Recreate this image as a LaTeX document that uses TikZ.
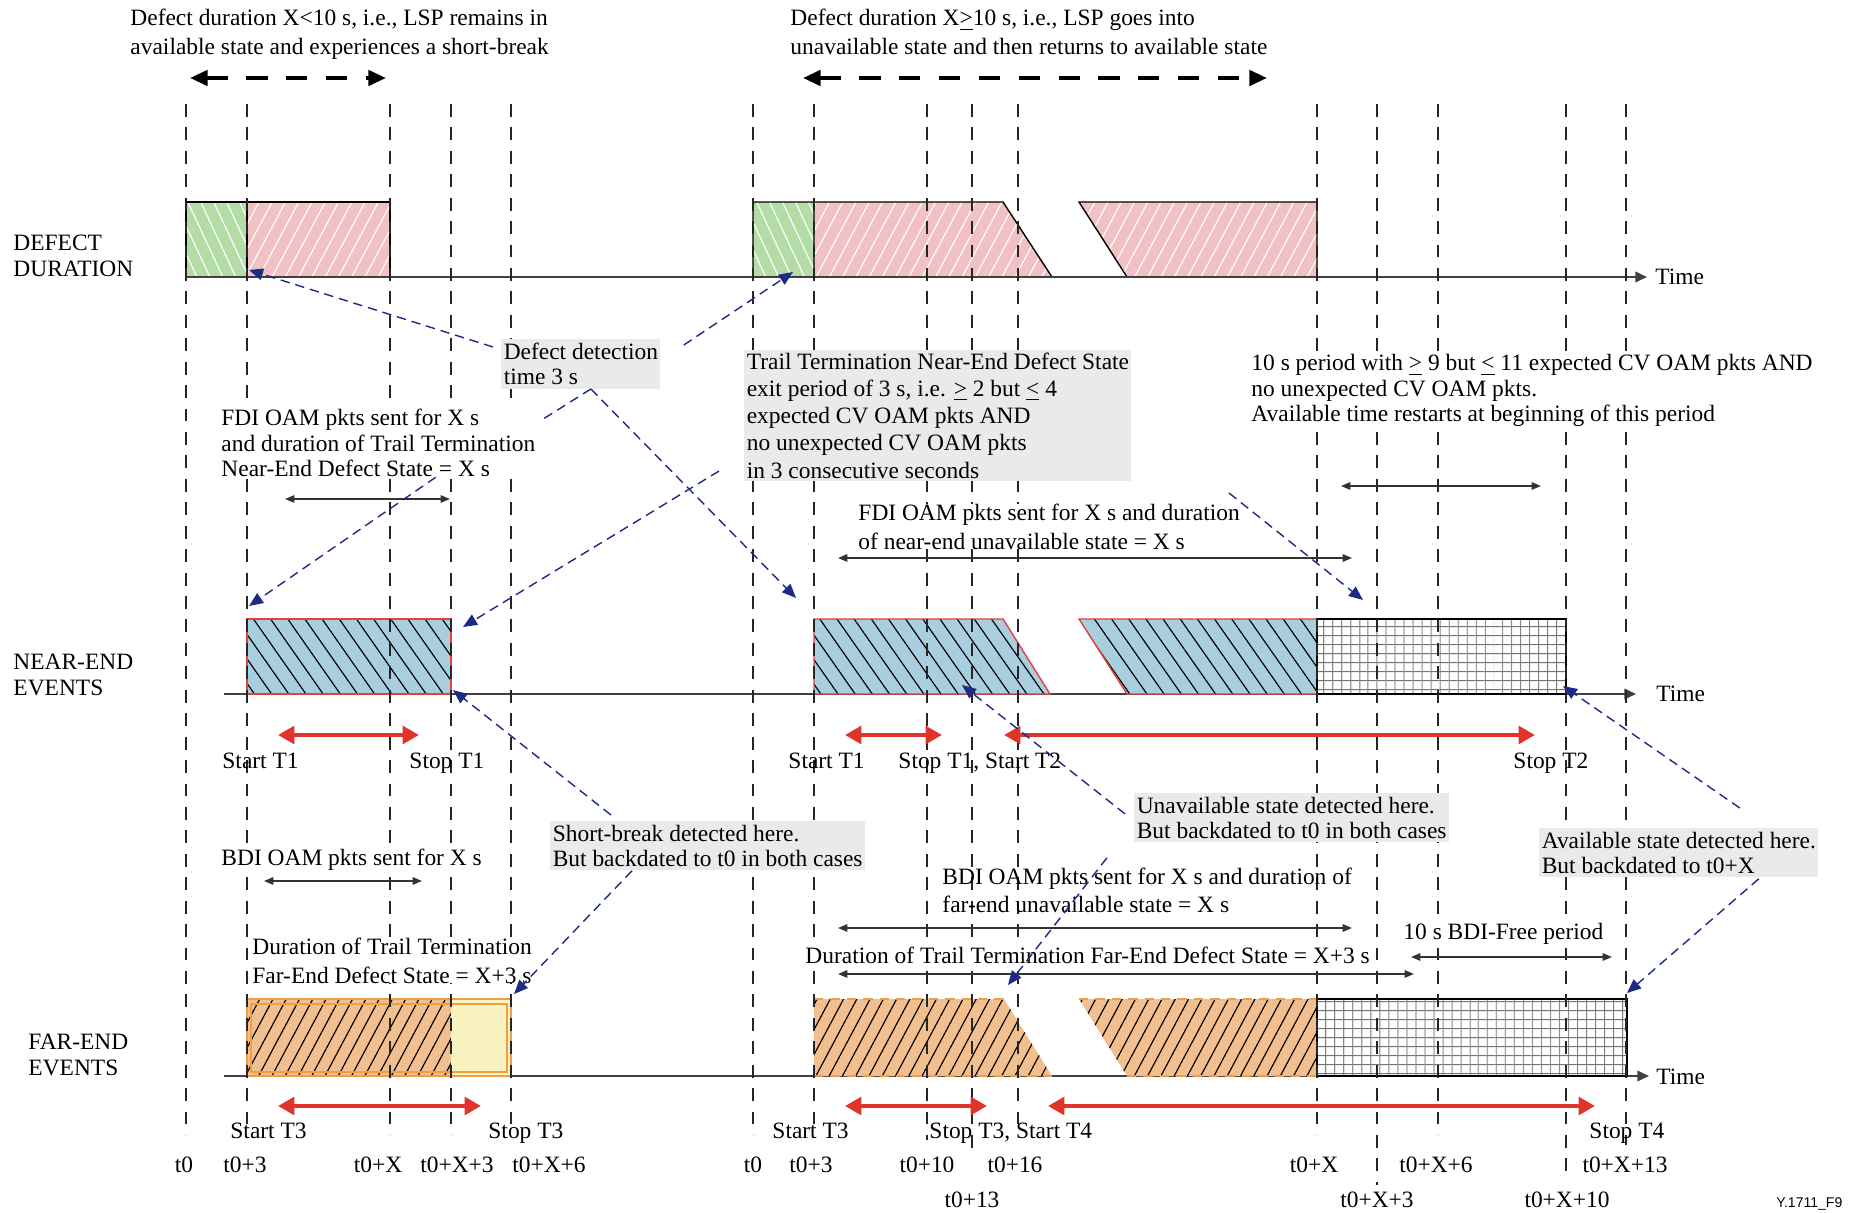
\documentclass[tikz,border=0pt]{standalone}
\usepackage{fontspec}
\setmainfont{Liberation Serif}
\setsansfont{Liberation Sans}
\usetikzlibrary{positioning}
\usetikzlibrary{arrows.meta}
\usetikzlibrary{patterns.meta}

\definecolor{greenc}{HTML}{B4DCA6}
\definecolor{pinkc}{HTML}{F1C1C3}
\definecolor{bluec}{HTML}{A8CEDF}
\definecolor{orangec}{HTML}{F2C08E}
\definecolor{yellowc}{HTML}{F9F4BF}
\definecolor{orangeline}{HTML}{EE9F45}
\definecolor{boxgray}{HTML}{E9EAEC}
\definecolor{navy}{HTML}{1E2B86}
\definecolor{tred}{HTML}{E0342A}
\definecolor{edgered}{HTML}{E5403A}

\begin{document}
\begin{tikzpicture}[x=0.015cm, y=-0.015cm,
  font=\fontsize{10}{11.6}\selectfont,
  tightlines/.style={font=\fontsize{10}{10.8}\selectfont},
  widelines/.style={font=\fontsize{10}{12}\selectfont},
  tline/.style={black!85, line width=0.5pt, dash pattern=on 5.5pt off 4.5pt},
  tlinebold/.style={tline, line width=0.9pt},
  baseaxis/.style={black!75, line width=0.9pt, -{Triangle[length=5pt,width=4.5pt]}},
  lbl/.style={inner sep=0pt, align=left, anchor=north west},
  wlbl/.style={lbl, fill=white},
  tlbl/.style={inner sep=0pt, anchor=north},
  notebox/.style={fill=boxgray, inner xsep=1pt, inner ysep=1.5pt, align=left, anchor=north west, tightlines},
  spanarrow/.style={black!80, line width=0.6pt, {Triangle[length=4pt,width=3.2pt]}-{Triangle[length=4pt,width=3.2pt]}},
  timerarrow/.style={tred, line width=1.8pt, {Triangle[length=7pt,width=7.5pt]}-{Triangle[length=7pt,width=7.5pt]}},
  rangearrow/.style={black, line width=1.7pt, dash pattern=on 9pt off 8pt, {Triangle[length=7.5pt,width=6.5pt]}-{Triangle[length=7.5pt,width=6.5pt]}},
  pointer/.style={navy, line width=0.6pt, dash pattern=on 4pt off 2.5pt, -{Triangle[length=6pt,width=5pt]}},
  greenhatch/.style={preaction={fill=greenc}, preaction={pattern={Lines[angle=115,distance=5pt,line width=0.5pt]}, pattern color=white}},
  redhatch/.style={preaction={fill=pinkc}, preaction={pattern={Lines[angle=62,distance=5pt,line width=0.5pt]}, pattern color=white}},
  bluehatch/.style={preaction={fill=bluec}, preaction={pattern={Lines[angle=125,distance=6pt,line width=0.5pt]}, pattern color=black}},
  orangehatch/.style={preaction={fill=orangec}, preaction={pattern={Lines[angle=62,distance=5pt,line width=0.5pt]}, pattern color=black}},
  gridfill/.style={preaction={fill=white}, preaction={pattern={Lines[angle=0,distance=4pt,line width=0.4pt]}, pattern color=black!55}, preaction={pattern={Lines[angle=90,distance=4pt,line width=0.4pt]}, pattern color=black!55}}]

  \useasboundingbox (0,0) rectangle (1849,1213);

  \coordinate (dax0) at (186,277);
  \coordinate (dax1) at (1647,277);
  \coordinate (nax0) at (224,694);
  \coordinate (nax1) at (1636,694);
  \coordinate (fax0) at (224,1076);
  \coordinate (fax1) at (1649,1076);
  \draw[baseaxis] (nax0) -- (nax1);
  \draw[baseaxis] (fax0) -- (fax1);

  \path[greenhatch] (186,202) rectangle (247,277);
  \path[redhatch] (247,202) rectangle (390,277);
  \draw[black, line width=0.6pt] (186,277) |- (390,202) -- (390,277) (247,202) -- (247,277);
  \path[greenhatch] (753,202) rectangle (814,277);
  \path[redhatch] (814,202) -- (1003,202) -- (1052,277) -- (814,277) -- cycle;
  \path[redhatch] (1079,202) -- (1317,202) -- (1317,277) -- (1127,277) -- cycle;
  \draw[black, line width=0.6pt] (753,277) |- (1003,202) -- (1052,277) (814,202) -- (814,277);
  \draw[black, line width=0.6pt] (1127,277) -- (1079,202) -- (1317,202) -- (1317,277);
  \draw[baseaxis] (dax0) -- (dax1);

  \draw[edgered, line width=0.6pt, bluehatch] (247,619) rectangle (451,694);
  \draw[edgered, line width=0.6pt, bluehatch] (814,619) -- (1003,619) -- (1050,694) -- (814,694) -- cycle;
  \draw[edgered, line width=0.6pt, bluehatch] (1079,619) -- (1317,619) -- (1317,694) -- (1127,694) -- cycle;
  \draw[black, line width=0.6pt, gridfill] (1317,619) rectangle (1566,694);

  \path[orangehatch] (247,999) rectangle (451,1076);
  \fill[yellowc] (451,999) rectangle (511,1076);
  \draw[orangeline, line width=1.2pt] (247,999) rectangle (511,1076);
  \draw[orangeline, line width=0.6pt] (251,1004) rectangle (507,1072);
  \path[orangehatch] (814,999) -- (1004,999) -- (1052,1076) -- (814,1076) -- cycle;
  \path[orangehatch] (1079,999) -- (1317,999) -- (1317,1076) -- (1127,1076) -- cycle;
  \draw[orangeline, line width=1pt, dash pattern=on 4pt off 3pt] (814,999) -- (1004,999) (814,1076) -- (1052,1076);
  \draw[orangeline, line width=1pt, dash pattern=on 4pt off 3pt] (1079,999) -- (1317,999) (1127,1076) -- (1317,1076);
  \draw[black, line width=0.6pt, gridfill] (1317,999) rectangle (1627,1076);

  \foreach \x/\e in {186/1135, 390/1135, 451/1135, 511/1135, 753/1135, 927/1140, 972/1152, 1018/1135, 1317/1135, 1438/1135, 1566/1178}
    \draw[tline] (\x,104) -- (\x,\e);
  \foreach \x/\e in {247/1135, 814/1135, 1377/1185, 1626/1145}
    \draw[tlinebold] (\x,104) -- (\x,\e);

  \node[anchor=west, inner sep=0pt] (dtime) at (1655,277) {Time};
  \node[anchor=west, inner sep=0pt] (ntime) at (1656,694) {Time};
  \node[anchor=west, inner sep=0pt] (ftime) at (1656,1077) {Time};

  \node[lbl, widelines] (topleft) at (130,9) {Defect duration X<10 s, i.e., LSP remains in\\available state and experiences a short-break};
  \node[lbl, widelines] (topright) at (790,9) {Defect duration X\underline{>}10 s, i.e., LSP goes into\\unavailable state and then returns to available state};

  \node[lbl, tightlines] (rowdefect) at (13,235) {DEFECT\\DURATION};
  \node[lbl, tightlines] (rownear) at (13,654) {NEAR-END\\EVENTS};
  \node[lbl, tightlines] (rowfar) at (28,1034) {FAR-END\\EVENTS};

  \node[wlbl, tightlines] (fdinear) at (221,409) {FDI OAM pkts sent for X s\\and duration of Trail Termination\\Near-End Defect State = X s};
  \node[wlbl, widelines] (fdiunav) at (858,504) {FDI OAM pkts sent for X s and duration\\of near-end unavailable state = X s};
  \node[wlbl, tightlines] (cvperiod) at (1251,354) {10 s period with \underline{>} 9 but \underline{<} 11 expected CV OAM pkts AND\\no unexpected CV OAM pkts.\\Available time restarts at beginning of this period};
  \node[wlbl] (bdinear) at (221,849) {BDI OAM pkts sent for X s};
  \node[wlbl, widelines] (durnear) at (252,938) {Duration of Trail Termination\\Far-End Defect State = X+3 s};
  \node[lbl] (bdiunav) at (942,868) {BDI OAM pkts sent for X s and duration of\\far-end unavailable state = X s};
  \node[wlbl] (bdifree) at (1403,923) {10 s BDI-Free period};
  \node[wlbl] (durunav) at (805,947) {Duration of Trail Termination Far-End Defect State = X+3 s};

  \node[lbl] (startta) at (222,753) {Start T1};
  \node[lbl] (stopta) at (409,753) {Stop T1};
  \node[lbl] (starttb) at (788,753) {Start T1};
  \node[lbl] (stoptb) at (898,753) {Stop T1, Start T2};
  \node[lbl] (stoptc) at (1513,753) {Stop T2};
  \node[lbl] (startfa) at (230,1123) {Start T3};
  \node[lbl] (stopfa) at (488,1123) {Stop T3};
  \node[lbl] (startfb) at (772,1123) {Start T3};
  \node[lbl] (stopfb) at (929,1123) {Stop T3, Start T4};
  \node[lbl] (stopfc) at (1589,1123) {Stop T4};

  \node[tlbl] (ta0) at (184,1156) {t0};
  \node[tlbl] (ta3) at (245,1156) {t0+3};
  \node[tlbl] (tax) at (378,1156) {t0+X};
  \node[tlbl] (tax3) at (457,1156) {t0+X+3};
  \node[tlbl] (tax6) at (549,1156) {t0+X+6};
  \node[tlbl] (tb0) at (753,1156) {t0};
  \node[tlbl] (tb3) at (811,1156) {t0+3};
  \node[tlbl] (tb10) at (927,1156) {t0+10};
  \node[tlbl] (tb13) at (972,1191) {t0+13};
  \node[tlbl] (tb16) at (1015,1156) {t0+16};
  \node[tlbl] (tbx) at (1314,1156) {t0+X};
  \node[tlbl] (tbx3) at (1377,1191) {t0+X+3};
  \node[tlbl] (tbx6) at (1436,1156) {t0+X+6};
  \node[tlbl] (tbx10) at (1567,1191) {t0+X+10};
  \node[tlbl] (tbx13) at (1625,1156) {t0+X+13};

  \foreach \n/\x/\y in {fdia/285/499, fdib/450/499, cva/1341/486, cvb/1541/486,
      unava/838/558, unavb/1352/558, bdia/264/881, bdib/422/881,
      bdiua/838/928, bdiub/1352/928, freea/1411/957, freeb/1612/957,
      dura/838/974, durb/1414/974}
    \coordinate (\n) at (\x,\y);
  \draw[spanarrow] (fdia) -- (fdib);
  \draw[spanarrow] (cva) -- (cvb);
  \draw[spanarrow] (unava) -- (unavb);
  \draw[spanarrow] (bdia) -- (bdib);
  \draw[spanarrow] (bdiua) -- (bdiub);
  \draw[spanarrow] (freea) -- (freeb);
  \draw[spanarrow] (dura) -- (durb);

  \foreach \n/\x/\y in {tna/278/735, tnb/419/735, tnc/845/735, tnd/942/735, tne/1004/735, tnf/1535/735,
      tfa/278/1106, tfb/481/1106, tfc/845/1106, tfd/987/1106, tfe/1048/1106, tff/1595/1106}
    \coordinate (\n) at (\x,\y);
  \draw[timerarrow] (tna) -- (tnb);
  \draw[timerarrow] (tnc) -- (tnd);
  \draw[timerarrow] (tne) -- (tnf);
  \draw[timerarrow] (tfa) -- (tfb);
  \draw[timerarrow] (tfc) -- (tfd);
  \draw[timerarrow] (tfe) -- (tff);

  \coordinate (shorta) at (190,78);
  \coordinate (shortb) at (386,78);
  \coordinate (longa) at (803,78);
  \coordinate (longb) at (1267,78);
  \draw[rangearrow] (shorta) -- (shortb);
  \draw[rangearrow] (longa) -- (longb);

  \node[notebox] (ddet) at (501,339) {Defect detection\\time 3 s};
  \node[notebox, font=\fontsize{10}{11.6}\selectfont, inner ysep=1pt] (trail) at (744,350) {Trail Termination Near-End Defect State\\exit period of 3 s, i.e. \underline{>} 2 but \underline{<} 4\\expected CV OAM pkts AND\\no unexpected CV OAM pkts\\in 3 consecutive seconds};
  \node[notebox] (sbreak) at (550,821) {Short-break detected here.\\But backdated to t0 in both cases};
  \node[notebox] (unav) at (1134,793) {Unavailable state detected here.\\But backdated to t0 in both cases};
  \node[notebox] (avail) at (1539,828) {Available state detected here.\\But backdated to t0+X};

  \foreach \n/\x/\y in {pa/249/270, pb/793/272, pc/796/598, pcs/540/421, pd/249/606, pe/463/627,
      pf/453/690, pg/514/994, phs/1229/493, ph/1363/600, pi/962/685, pj/1008/985,
      pk/1563/686, pl/1627/993}
    \coordinate (\n) at (\x,\y);
  \draw[pointer] ([shift={(-8,8)}]ddet.north west) -- (pa);
  \draw[pointer] ([shift={(23,6)}]ddet.north east) -- (pb);
  \draw[pointer] ([shift={(10,0)}]ddet.south) -- (pc);
  \draw[pointer, -] ([shift={(10,0)}]ddet.south) -- (pcs);
  \draw[pointer] ([shift={(-100,0)}]fdinear.south east) -- (pd);
  \draw[pointer] ([shift={(-25,-10)}]trail.south west) -- (pe);
  \draw[pointer] ([shift={(61,-6)}]sbreak.north west) -- (pf);
  \draw[pointer] ([shift={(82,0)}]sbreak.south west) -- (pg);
  \draw[pointer] (phs) -- (ph);
  \draw[pointer] ([shift={(-9,-4)}]unav.west) -- (pi);
  \draw[pointer] ([shift={(-27,15)}]unav.south west) -- (pj);
  \draw[pointer] ([shift={(61,-20)}]avail.north) -- (pk);
  \draw[pointer] ([shift={(80,1)}]avail.south) -- (pl);

  \node[anchor=south west, inner sep=0pt, font=\sffamily\fontsize{6}{7}\selectfont] (figid) at (1776,1211) {Y.1711\_F9};
\end{tikzpicture}
\end{document}
